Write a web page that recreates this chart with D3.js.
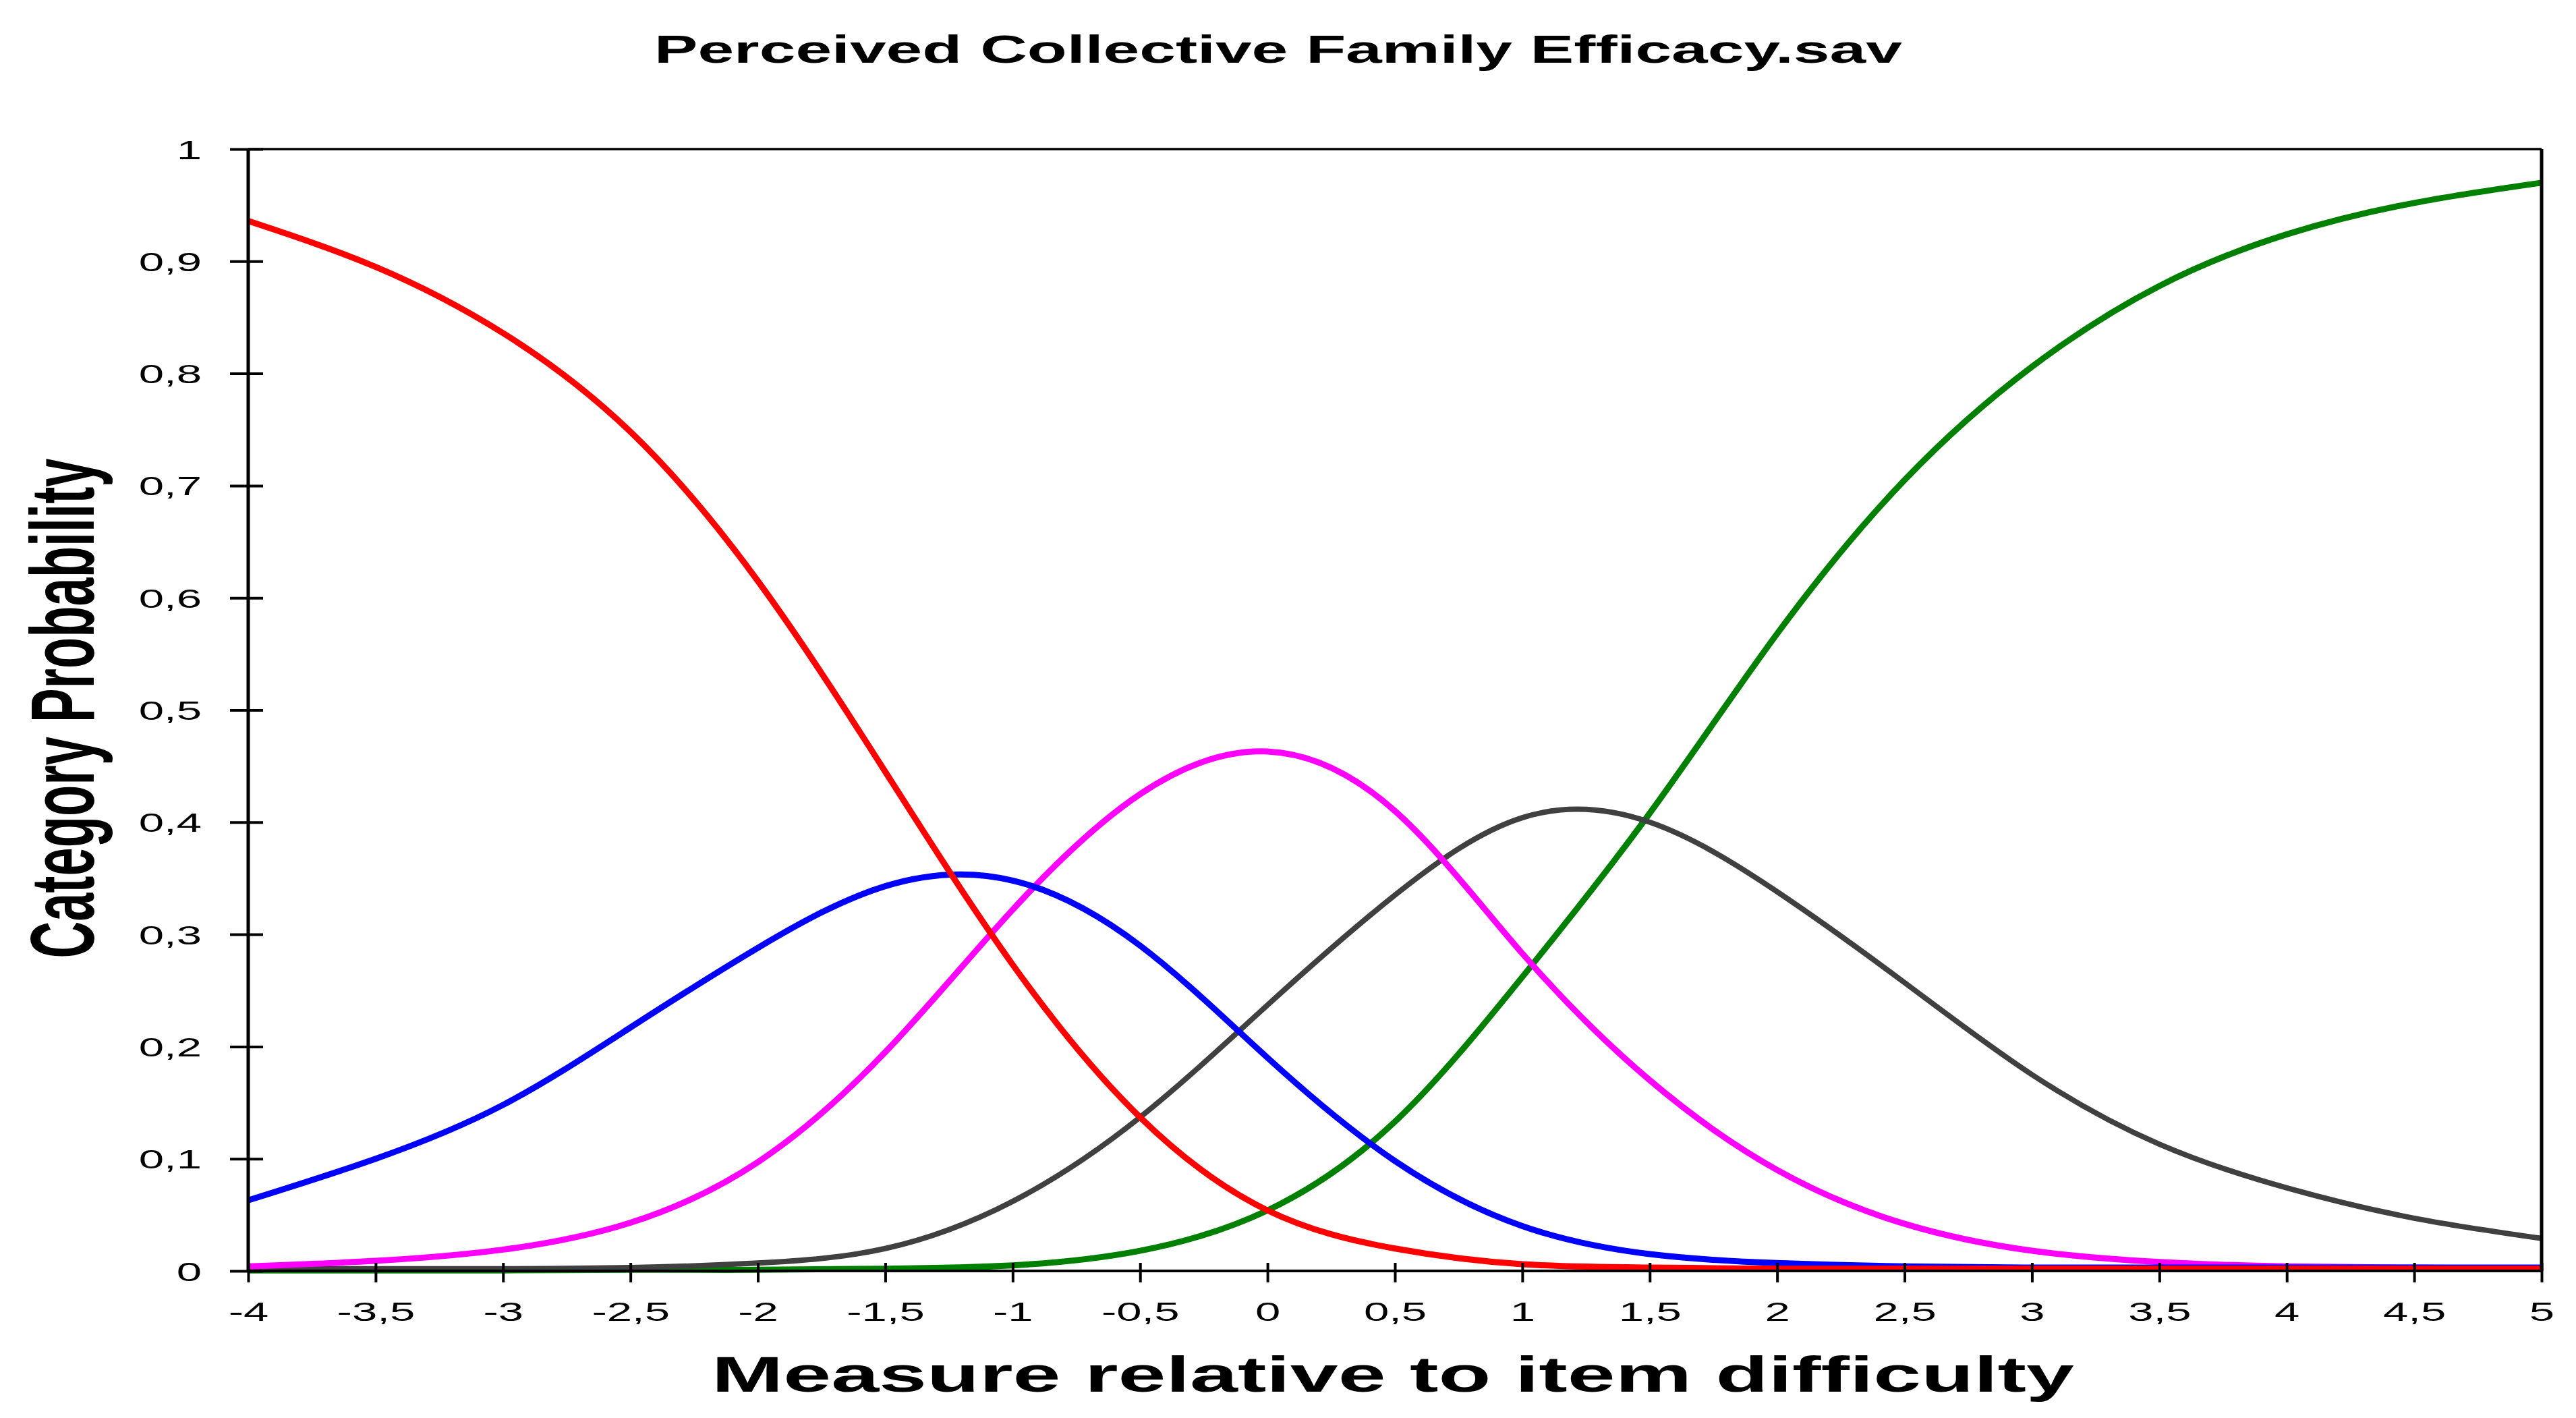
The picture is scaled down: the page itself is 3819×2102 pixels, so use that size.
<!DOCTYPE html>
<meta charset="utf-8">
<style>

body {
  margin: 0;
  background: #fff;
}

text {
  font-family: "Liberation Sans", Arial, sans-serif;
}

.tick-label {
  font-size: 39px;
}

.curve {
  fill: none;
  stroke-linejoin: round;
}

.frame {
  stroke: #000;
}

</style>
<svg width="3819" height="2102"></svg>
<script src="https://d3js.org/d3.v7.min.js"></script>
<script>

// measure (logits) where the curves were read
var measures = [-4, -3.5, -3, -2.5, -2, -1.5, -1, -0.5, 0, 0.5, 1, 1.5, 2, 2.5, 3, 3.5, 4, 4.5, 5];

var cat1 = [0.936, 0.895, 0.836, 0.748, 0.615, 0.445, 0.273, 0.137, 0.054, 0.020, 0.006, 0.003, 0.002, 0.002, 0.002, 0.002, 0.002, 0.002, 0.002];
var cat2 = [0.063, 0.100, 0.148, 0.217, 0.288, 0.343, 0.348, 0.290, 0.190, 0.098, 0.040, 0.015, 0.007, 0.004, 0.003, 0.003, 0.003, 0.003, 0.003];
var cat3 = [0.004, 0.009, 0.019, 0.043, 0.097, 0.195, 0.322, 0.425, 0.463, 0.410, 0.283, 0.170, 0.090, 0.042, 0.018, 0.008, 0.004, 0.003, 0.002];
var cat4 = [0.002, 0.002, 0.002, 0.003, 0.007, 0.020, 0.062, 0.137, 0.237, 0.335, 0.404, 0.400, 0.338, 0.257, 0.175, 0.113, 0.074, 0.047, 0.029];
var cat5 = [0.0005, 0.0005, 0.0005, 0.001, 0.001, 0.002, 0.005, 0.018, 0.054, 0.133, 0.262, 0.408, 0.568, 0.705, 0.806, 0.878, 0.924, 0.952, 0.970];

var xTicks = [-4, -3.5, -3, -2.5, -2, -1.5, -1, -0.5, 0, 0.5, 1, 1.5, 2, 2.5, 3, 3.5, 4, 4.5, 5];
var yTicks = [0, 0.1, 0.2, 0.3, 0.4, 0.5, 0.6, 0.7, 0.8, 0.9, 1];

// drawn in this order, red ends up on top
var series = [
  {values: cat5, color: "#008000", width: 9},
  {values: cat4, color: "#404040", width: 8},
  {values: cat3, color: "#ff00ff", width: 9},
  {values: cat2, color: "#0000ff", width: 9},
  {values: cat1, color: "#ff0000", width: 9}
];

var svg = d3.select("svg");

var plotLeft = 368, plotRight = 3768, plotTop = 221, plotBottom = 1884;
var stretch = 1.72; // the original picture is widened horizontally

var x = d3.scaleLinear().domain([-4, 5]).range([plotLeft, plotRight]);
var y = d3.scaleLinear().domain([0, 1]).range([plotBottom, plotTop]);

var comma = function(d) { return String(d).replace(".", ","); };

var line = d3.line()
    .x(function(d, i) { return x(measures[i]); })
    .y(function(d) { return y(d); })
    .curve(d3.curveNatural);

svg.append("g")
  .selectAll("path")
  .data(series)
  .enter().append("path")
    .attr("class", "curve")
    .attr("stroke", function(d) { return d.color; })
    .attr("stroke-width", function(d) { return d.width; })
    .attr("d", function(d) { return line(d.values); });

// frame
svg.append("line").attr("class", "frame")
    .attr("x1", plotLeft).attr("x2", plotRight).attr("y1", plotTop).attr("y2", plotTop)
    .attr("stroke-width", 3.5);
svg.append("line").attr("class", "frame")
    .attr("x1", plotRight).attr("x2", plotRight).attr("y1", plotTop).attr("y2", plotBottom)
    .attr("stroke-width", 5);

var yAxis = svg.append("g")
    .attr("transform", "translate(" + plotLeft + ",0)")
    .call(d3.axisLeft(y).tickValues(yTicks).tickFormat(comma).tickSize(27).tickPadding(42));

yAxis.select(".domain").attr("stroke-width", 5).attr("d", "M0," + plotTop + "V" + plotBottom);
yAxis.selectAll(".tick line").attr("x1", 22).attr("x2", -27).attr("stroke-width", 4);

var xAxis = svg.append("g")
    .attr("transform", "translate(0," + plotBottom + ")")
    .call(d3.axisBottom(x).tickValues(xTicks).tickFormat(comma).tickSize(17).tickPadding(45));

xAxis.select(".domain").attr("stroke-width", 4).attr("d", "M" + plotLeft + ",0H" + plotRight);
xAxis.selectAll(".tick line").attr("y1", -12).attr("y2", 17).attr("stroke-width", 4);

svg.selectAll(".tick text")
    .attr("class", "tick-label")
    .attr("fill", "#000")
    .style("font-family", "'Liberation Sans', Arial, sans-serif")
    .each(function() {
      var w = this.getComputedTextLength();
      d3.select(this).attr("textLength", w * stretch).attr("lengthAdjust", "spacingAndGlyphs");
    });

yAxis.selectAll(".tick text").attr("dy", "0.36em");
xAxis.selectAll(".tick text").attr("dy", null).attr("y", 74);

// titles
svg.append("text")
    .attr("x", 970)
    .attr("y", 93)
    .attr("font-size", 58)
    .attr("font-weight", "bold")
    .attr("textLength", 1850)
    .attr("lengthAdjust", "spacingAndGlyphs")
    .text("Perceived Collective Family Efficacy.sav");

svg.append("text")
    .attr("x", 1055)
    .attr("y", 2063)
    .attr("font-size", 75)
    .attr("font-weight", "bold")
    .attr("textLength", 2020)
    .attr("lengthAdjust", "spacingAndGlyphs")
    .text("Measure relative to item difficulty");

svg.append("text")
    .attr("transform", "translate(139,1050) rotate(-90)")
    .attr("text-anchor", "middle")
    .attr("font-size", 134)
    .attr("font-weight", "bold")
    .attr("textLength", 741)
    .attr("lengthAdjust", "spacingAndGlyphs")
    .text("Category Probability");

</script>
